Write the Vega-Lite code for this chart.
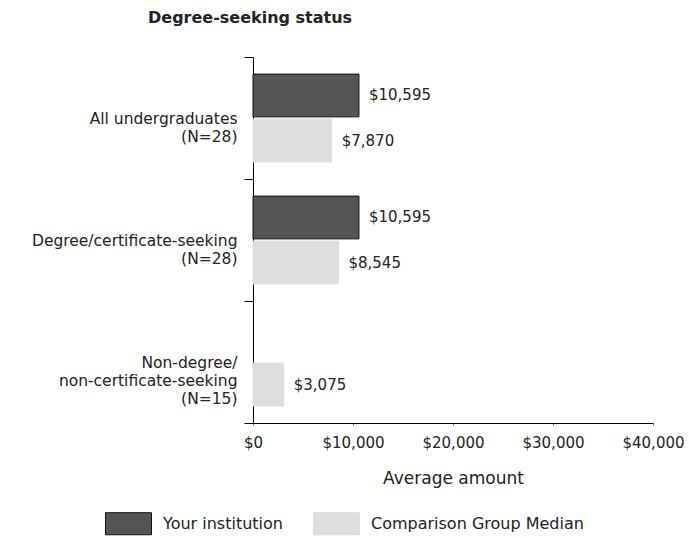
{
  "$schema": "https://vega.github.io/schema/vega-lite/v6.json",
  "autosize": "none",
  "width": 400,
  "height": 366,
  "padding": {"left": 253, "top": 57, "right": 36, "bottom": 115},
  "background": "white",
  "config": {
    "font": "DejaVu Sans",
    "view": {"stroke": null}
  },
  "title": {
    "text": "Degree-seeking status",
    "anchor": "start",
    "frame": "group",
    "dx": -105,
    "offset": 24,
    "fontSize": 16,
    "fontWeight": "bold",
    "color": "#222"
  },
  "data": {
    "values": [
      {"group": "All undergraduates|(N=28)", "series": "Your institution", "value": 10595},
      {"group": "All undergraduates|(N=28)", "series": "Comparison Group Median", "value": 7870},
      {"group": "Degree/certificate-seeking|(N=28)", "series": "Your institution", "value": 10595},
      {"group": "Degree/certificate-seeking|(N=28)", "series": "Comparison Group Median", "value": 8545},
      {"group": "Non-degree/|non-certificate-seeking|(N=15)", "series": "Your institution", "value": null},
      {"group": "Non-degree/|non-certificate-seeking|(N=15)", "series": "Comparison Group Median", "value": 3075}
    ]
  },
  "encoding": {
    "y": {
      "field": "group",
      "type": "nominal",
      "sort": null,
      "scale": {"paddingInner": 0, "paddingOuter": 0},
      "axis": {
        "title": null,
        "labelExpr": "split(datum.label, '|')",
        "labelFontSize": 15.5,
        "labelColor": "#222",
        "labelPadding": 7,
        "labelLimit": 300,
        "tickBand": "extent",
        "tickSize": 9,
        "tickColor": "#000",
        "domainColor": "#000",
        "labelAlign": "right",
        "labelBaseline": "middle",
        "labelLineHeight": 18
      }
    },
    "yOffset": {
      "field": "series",
      "type": "nominal",
      "sort": ["Your institution", "Comparison Group Median"],
      "scale": {"paddingInner": 0.05, "paddingOuter": 0.38}
    },
    "x": {
      "field": "value",
      "type": "quantitative",
      "scale": {"domain": [0, 40000], "nice": false},
      "axis": {
        "title": "Average amount",
        "values": [0, 10000, 20000, 30000, 40000],
        "format": "$,d",
        "grid": false,
        "labelFlush": false,
        "labelOverlap": false,
        "labelFontSize": 15,
        "labelColor": "#222",
        "labelPadding": 10,
        "tickSize": 2,
        "tickColor": "#666",
        "domainColor": "#000",
        "titleFontSize": 17,
        "titleFontWeight": "normal",
        "titleColor": "#222",
        "titlePadding": 20
      }
    }
  },
  "layer": [
    {
      "mark": {"type": "bar"},
      "encoding": {
        "color": {
          "field": "series",
          "type": "nominal",
          "sort": ["Your institution", "Comparison Group Median"],
          "scale": {"domain": ["Your institution", "Comparison Group Median"], "range": ["#555555", "#dedede"]},
          "legend": {
            "title": null,
            "orient": "none",
            "direction": "horizontal",
            "legendX": -148,
            "legendY": 443,
            "symbolType": "M-1,-0.48L1,-0.48L1,0.48L-1,0.48Z",
            "symbolSize": 2116,
            "symbolStrokeWidth": 1,
            "labelFontSize": 16,
            "labelColor": "#222",
            "labelOffset": 11,
            "columnPadding": 28,
            "labelLimit": 300
          }
        },
        "stroke": {
          "field": "series",
          "type": "nominal",
          "sort": ["Your institution", "Comparison Group Median"],
          "scale": {"domain": ["Your institution", "Comparison Group Median"], "range": ["#111111", "#dedede"]},
          "legend": null
        }
      }
    },
    {
      "mark": {"type": "text", "align": "left", "baseline": "middle", "dx": 10, "fontSize": 15, "color": "#222"},
      "encoding": {
        "text": {"field": "value", "type": "quantitative", "format": "$,d"}
      }
    }
  ]
}
